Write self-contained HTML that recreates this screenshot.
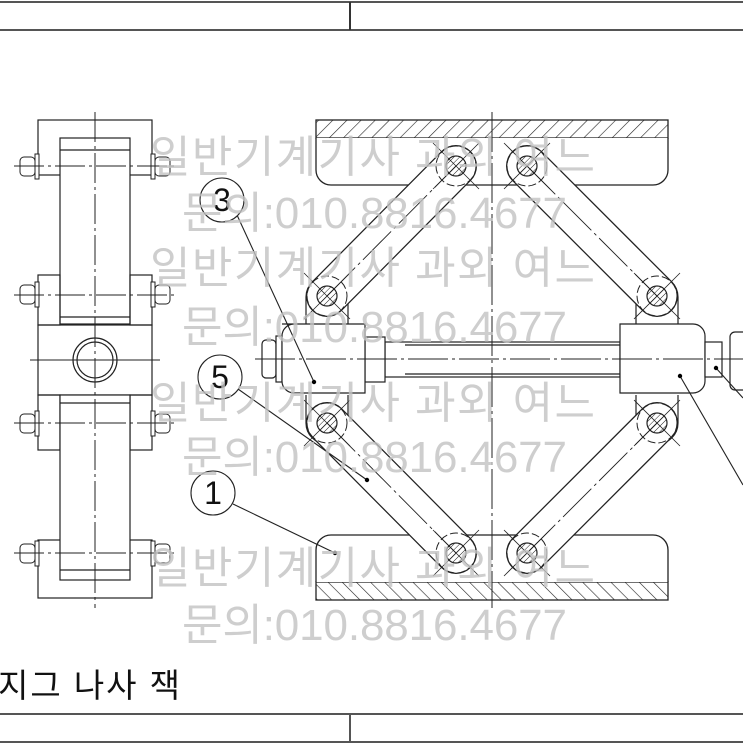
<!DOCTYPE html>
<html><head><meta charset="utf-8"><style>
html,body{margin:0;padding:0;background:#fff;}
svg{display:block;}
</style></head><body>
<svg width="743" height="743" viewBox="0 0 743 743" xmlns="http://www.w3.org/2000/svg">
<defs>
<pattern id="h1" width="10" height="10" patternUnits="userSpaceOnUse" patternTransform="rotate(45)"><line x1="0" y1="0" x2="0" y2="10" stroke="#222" stroke-width="1.2"/></pattern>
<pattern id="h2" width="10" height="10" patternUnits="userSpaceOnUse" patternTransform="rotate(-45)"><line x1="0" y1="0" x2="0" y2="10" stroke="#222" stroke-width="1.2"/></pattern>
<pattern id="ph" width="4" height="4" patternUnits="userSpaceOnUse" patternTransform="rotate(45)"><line x1="0" y1="0" x2="0" y2="4" stroke="#222" stroke-width="1"/></pattern>
<g id="pin" stroke="#222">
<circle cx="0" cy="0" r="10" fill="url(#ph)" stroke-width="1.2"/>
<circle cx="0" cy="0" r="20" fill="none" stroke-width="1" stroke-dasharray="8,3"/>
<line x1="-23" y1="-23" x2="23" y2="23" stroke-width="0.8"/>
<line x1="-23" y1="23" x2="23" y2="-23" stroke-width="0.8"/>
</g>
<g id="bolt" stroke="#222" stroke-width="1" fill="#fff">
<rect x="20" y="157" width="15" height="19" rx="4"/><rect x="35" y="154" width="4" height="25"/>
<rect x="151" y="154" width="4" height="25"/><rect x="155" y="157" width="15" height="19" rx="4"/>
</g>
</defs>
<g stroke="#555" stroke-width="2" fill="none">
<line x1="0" y1="2" x2="743" y2="2"/><line x1="0" y1="30" x2="743" y2="30"/>
<line x1="0" y1="714" x2="743" y2="714"/><line x1="0" y1="742" x2="743" y2="742"/>
<line x1="350" y1="2" x2="350" y2="30" stroke="#333"/><line x1="350" y1="714" x2="350" y2="742"/>
</g>

<!-- LEFT VIEW -->
<g stroke="#222" stroke-width="1.2" fill="none">
<rect x="38" y="120" width="114" height="55"/>
<rect x="60" y="138" width="70" height="186" fill="#fff"/>
<line x1="60" y1="150" x2="130" y2="150"/>
<rect x="38" y="275" width="22" height="50"/><rect x="130" y="275" width="22" height="50"/>
<line x1="60" y1="317" x2="130" y2="317"/>
<rect x="38" y="325" width="114" height="70"/>
<circle cx="95" cy="360" r="22"/><circle cx="95" cy="360" r="18"/>
<rect x="38" y="395" width="22" height="55"/><rect x="130" y="395" width="22" height="55"/>
<rect x="38" y="540" width="114" height="58"/>
<rect x="60" y="395" width="70" height="185" fill="#fff"/>
<line x1="60" y1="403" x2="130" y2="403"/>
<line x1="60" y1="570" x2="130" y2="570"/>
</g>
<use href="#bolt"/><use href="#bolt" y="128"/><use href="#bolt" y="257"/><use href="#bolt" y="387"/>
<g stroke="#222" stroke-width="1" stroke-dasharray="30,4,3,4">
<line x1="14" y1="166" x2="176" y2="166"/><line x1="14" y1="295" x2="176" y2="295"/>
<line x1="14" y1="423" x2="176" y2="423"/><line x1="14" y1="553" x2="176" y2="553"/>
<line x1="95" y1="112" x2="95" y2="608"/>
</g>
<line x1="30" y1="360" x2="160" y2="360" stroke="#222" stroke-width="1"/>

<!-- RIGHT VIEW: plates -->
<g stroke="#222" stroke-width="1.3">
<rect x="316" y="120" width="352" height="18" fill="url(#h1)"/>
<path d="M316 138 V170 a15 15 0 0 0 15 15 H653 a15 15 0 0 0 15 -15 V138" fill="#fff"/>
<rect x="316" y="582" width="352" height="18" fill="url(#h2)"/>
<path d="M316 582 V550 a15 15 0 0 1 15 -15 H653 a15 15 0 0 1 15 15 V582" fill="#fff"/>
</g>
<!-- lugs -->
<g stroke="#222" stroke-width="1.2" fill="#fff">
<path d="M306 325 V297 a21 21 0 0 1 42 0 V325"/>
<path d="M306 395 V423 a21 21 0 0 0 42 0 V395"/>
<path d="M636 325 V297 a21 21 0 0 1 42 0 V325"/>
<path d="M636 395 V423 a21 21 0 0 0 42 0 V395"/>
</g>
<!-- links -->
<g stroke-linecap="round">
<g stroke="#222" stroke-width="42">
<line x1="327" y1="296" x2="456" y2="166"/><line x1="527" y1="166" x2="657" y2="296"/>
<line x1="327" y1="423" x2="456" y2="553"/><line x1="527" y1="553" x2="657" y2="423"/>
</g>
<g stroke="#fff" stroke-width="39.5">
<line x1="327" y1="296" x2="456" y2="166"/><line x1="527" y1="166" x2="657" y2="296"/>
<line x1="327" y1="423" x2="456" y2="553"/><line x1="527" y1="553" x2="657" y2="423"/>
</g>
</g>
<g stroke="#222" stroke-width="0.9" stroke-dasharray="40,4,3,4">
<line x1="327" y1="296" x2="456" y2="166"/><line x1="527" y1="166" x2="657" y2="296"/>
<line x1="327" y1="423" x2="456" y2="553"/><line x1="527" y1="553" x2="657" y2="423"/>
</g>
<!-- pins -->
<use href="#pin" x="456" y="166"/><use href="#pin" x="527" y="166"/>
<use href="#pin" x="327" y="296"/><use href="#pin" x="657" y="296"/>
<use href="#pin" x="327" y="423"/><use href="#pin" x="657" y="423"/>
<use href="#pin" x="456" y="553"/><use href="#pin" x="527" y="553"/>
<!-- screw & blocks -->
<g stroke="#222" stroke-width="1.2" fill="#fff">
<rect x="385" y="342" width="235" height="35"/>
<line x1="405" y1="345" x2="620" y2="345"/><line x1="405" y1="374" x2="620" y2="374"/>
<rect x="365" y="337" width="20" height="45"/>
<rect x="262" y="340" width="14" height="38" rx="4"/><rect x="276" y="336" width="6" height="46"/>
<path d="M282 324 H365 V393 H294 a12 12 0 0 1 -12 -12 V336 a12 12 0 0 1 12 -12Z"/>
<path d="M620 324 H693 a12 12 0 0 1 12 12 V381 a12 12 0 0 1 -12 12 H620Z"/>
<rect x="705" y="342" width="17" height="35"/>
<rect x="730" y="332" width="20" height="58" rx="5"/>
</g>
<g stroke="#222" stroke-width="1" stroke-dasharray="40,4,3,4">
<line x1="255" y1="359" x2="743" y2="359"/>
<line x1="492" y1="112" x2="492" y2="608"/>
</g>
<!-- balloons & leaders -->
<g stroke="#222" stroke-width="1.1" fill="#fff">
<line x1="237" y1="215" x2="314" y2="382"/>
<line x1="238" y1="389" x2="367" y2="480"/>
<line x1="233" y1="504" x2="335" y2="553"/>
<line x1="680" y1="376" x2="743" y2="485"/>
<line x1="716" y1="368" x2="743" y2="398"/>
<circle cx="222" cy="200" r="22"/><circle cx="220" cy="377" r="22"/><circle cx="213" cy="493" r="22"/>
</g>
<g fill="#000"><circle cx="314" cy="382" r="2.2"/><circle cx="367" cy="480" r="2.2"/><circle cx="335" cy="553" r="2.2"/><circle cx="680" cy="376" r="2.2"/><circle cx="716" cy="368" r="2.2"/></g>
<g font-family="Liberation Sans, sans-serif" font-size="32" text-anchor="middle" fill="#111">
<text x="222" y="211">3</text><text x="220" y="388">5</text><text x="213" y="504">1</text>
</g>
<!-- watermark -->
<g font-family="Liberation Sans, 'Noto Sans CJK KR', sans-serif" font-size="44" fill="#c2c2c2" fill-opacity="0.8">
<text x="150" y="172" textLength="445">일반기계기사 과외 여느</text>
<text x="182" y="228" textLength="385">문의:010.8816.4677</text>
<text x="150" y="283" textLength="445">일반기계기사 과외 여느</text>
<text x="182" y="342" textLength="385">문의:010.8816.4677</text>
<text x="150" y="418" textLength="445">일반기계기사 과외 여느</text>
<text x="182" y="472" textLength="385">문의:010.8816.4677</text>
<text x="150" y="583" textLength="445">일반기계기사 과외 여느</text>
<text x="182" y="640" textLength="385">문의:010.8816.4677</text>
</g>
<text x="-2" y="697" font-family="Liberation Sans, 'Noto Sans CJK KR', sans-serif" font-size="33" fill="#111" textLength="182">지그 나사 잭</text>
</svg>
</body></html>
